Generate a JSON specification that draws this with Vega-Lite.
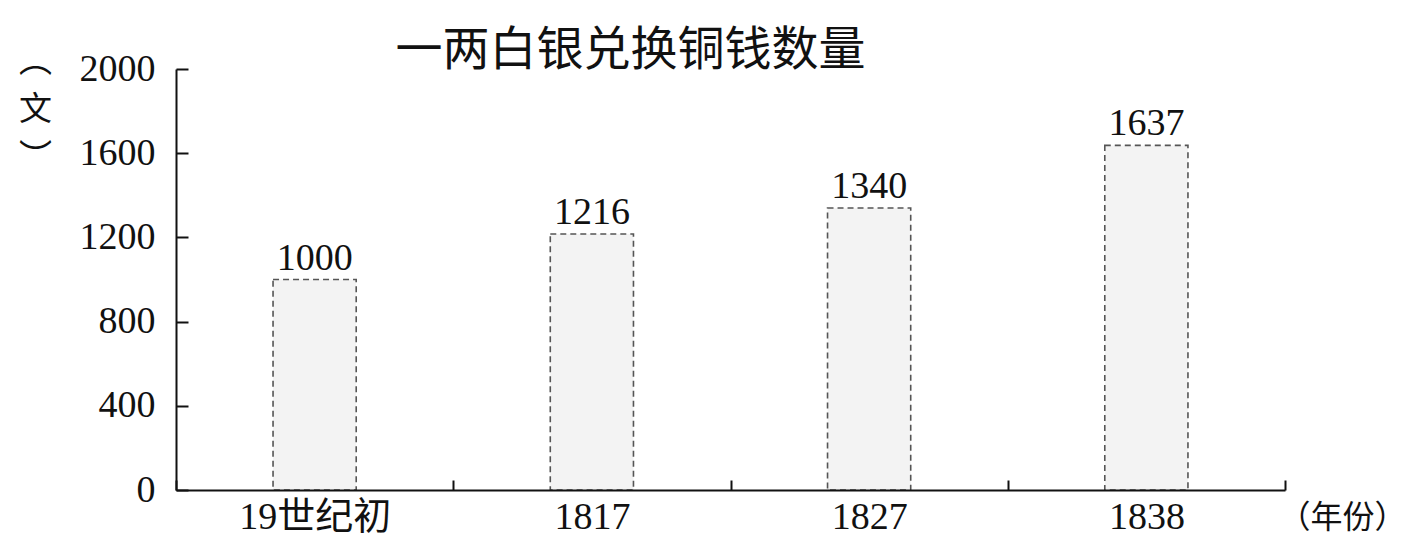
{
  "$schema": "https://vega.github.io/schema/vega-lite/v6.json",
  "width": 1109,
  "height": 421,
  "autosize": "none",
  "padding": {"left": 176, "top": 69, "right": 125, "bottom": 52},
  "background": "white",
  "title": {
    "text": "一两白银兑换铜钱数量",
    "font": "Noto Sans CJK SC",
    "fontSize": 47,
    "fontWeight": "normal",
    "color": "#111",
    "anchor": "middle",
    "dx": -100,
    "offset": -30
  },
  "data": {
    "values": [
      {"period": "19世纪初", "value": 1000},
      {"period": "1817", "value": 1216},
      {"period": "1827", "value": 1340},
      {"period": "1838", "value": 1637}
    ]
  },
  "encoding": {
    "x": {
      "field": "period",
      "type": "nominal",
      "sort": null,
      "scale": {"paddingInner": 0, "paddingOuter": 0},
      "axis": {
        "orient": "bottom",
        "tickBand": "extent",
        "labelAngle": 0,
        "labelFont": "Liberation Serif, Noto Sans CJK SC",
        "labelFontSize": 38,
        "labelColor": "#111",
        "labelPadding": 18,
        "domainColor": "#111",
        "domainWidth": 2,
        "ticks": true,
        "tickColor": "#111",
        "tickWidth": 2,
        "tickSize": -10,
        "zindex": 1,
        "title": "（年份）",
        "titleFont": "Noto Sans CJK SC",
        "titleFontSize": 32,
        "titleFontWeight": "normal",
        "titleColor": "#111",
        "titleX": 1166,
        "titleY": 12,
        "titleAlign": "center",
        "titleBaseline": "top"
      }
    },
    "y": {
      "field": "value",
      "type": "quantitative",
      "scale": {"domain": [0, 2000], "nice": false},
      "axis": {
        "values": [0, 400, 800, 1200, 1600, 2000],
        "format": "d",
        "grid": false,
        "domainColor": "#111",
        "domainWidth": 2,
        "ticks": true,
        "tickColor": "#111",
        "tickWidth": 2,
        "tickSize": -12,
        "zindex": 1,
        "labelFont": "Liberation Serif",
        "labelFontSize": 38,
        "labelColor": "#111",
        "labelPadding": 33,
        "title": ["︵", "文", "︶"],
        "titleFont": "Noto Sans CJK SC",
        "titleFontSize": 33,
        "titleFontWeight": "normal",
        "titleColor": "#111",
        "titleAngle": 0,
        "titleAlign": "center",
        "titleBaseline": "top",
        "titleLineHeight": 48,
        "titleX": -141,
        "titleY": -24
      }
    }
  },
  "layer": [
    {
      "mark": {
        "type": "bar",
        "width": {"band": 0.3},
        "fill": "#f3f3f3",
        "stroke": "#555",
        "strokeWidth": 1.6,
        "strokeDash": [6, 4]
      }
    },
    {
      "mark": {
        "type": "text",
        "font": "Liberation Serif",
        "fontSize": 38,
        "color": "#111",
        "baseline": "alphabetic",
        "dy": -10
      },
      "encoding": {
        "text": {"field": "value", "type": "quantitative"}
      }
    }
  ],
  "config": {"view": {"stroke": null}}
}
